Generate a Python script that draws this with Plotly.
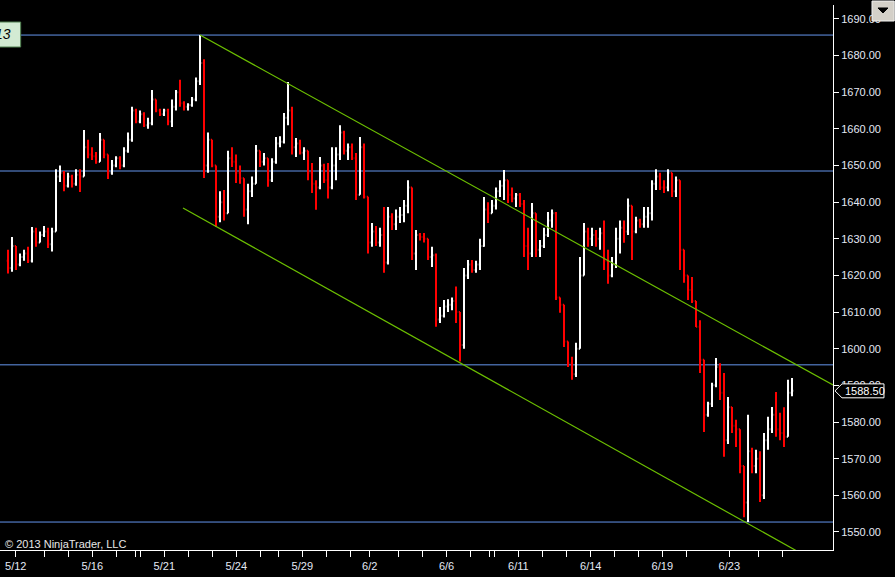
import plotly.graph_objects as go

# ---- price bars (one bar per session slot) ----
close = [
    1622, 1628, 1623, 1625, 1626, 1624, 1632, 1629, 1631, 1632,
    1628.5, 1632, 1647, 1648, 1644.5, 1647, 1645, 1647.5, 1647, 1655,
    1653, 1652.5, 1651, 1657, 1653, 1648, 1650, 1652, 1650, 1654,
    1657, 1665, 1662, 1664, 1661, 1661.5, 1668, 1665, 1664, 1665,
    1662, 1666, 1670, 1667, 1666, 1666.5, 1668, 1673, 1678, 1650,
    1657, 1650, 1636, 1640, 1637, 1652, 1651, 1648, 1646.5, 1638,
    1643, 1645, 1654, 1651, 1652, 1646, 1651, 1656, 1656.5, 1663,
    1665, 1655, 1656, 1653.5, 1654, 1648, 1645, 1644, 1650, 1646,
    1644, 1650, 1653, 1659, 1654, 1655, 1652, 1642, 1655, 1641.5,
    1629, 1632, 1629, 1631, 1623.5, 1636, 1634, 1636, 1636.5, 1639,
    1644, 1626, 1631, 1630.5, 1630, 1625, 1625.5, 1608, 1609, 1611.5,
    1612, 1613, 1610, 1601, 1620, 1623, 1621.5, 1623, 1628, 1638,
    1637, 1639, 1643, 1644.5, 1646, 1642, 1641, 1642, 1639.5, 1628,
    1626, 1637, 1627, 1628, 1631, 1635, 1637, 1614, 1612, 1602,
    1596, 1593, 1600, 1620, 1632, 1630, 1631, 1630, 1631.5, 1624,
    1620, 1623, 1630, 1633, 1632, 1639, 1632, 1635, 1634, 1636,
    1637, 1645, 1647, 1644, 1644, 1648, 1643, 1646, 1627, 1620,
    1616, 1613, 1606, 1597, 1582, 1585, 1590, 1595, 1588, 1575,
    1584, 1579, 1578, 1568, 1558, 1572, 1568, 1570, 1560, 1575,
    1578, 1582, 1578, 1577, 1576, 1588, 1588.5,
]
high = [
    1627, 1630.5, 1628, 1626, 1627, 1627.8, 1633.2, 1633, 1632, 1633.5,
    1633, 1633, 1649, 1650, 1648.5, 1648, 1647.5, 1649, 1649, 1659.7,
    1657, 1655, 1653.7, 1658.9, 1657, 1653, 1651.5, 1652.5, 1652.5, 1655,
    1659, 1666, 1665.5, 1665, 1664.5, 1663, 1670.6, 1668, 1665.5, 1665.5,
    1665.5, 1668, 1670.6, 1673.4, 1667.5, 1667, 1668.7, 1674, 1685.6, 1679,
    1659, 1657, 1650, 1643, 1643.3, 1654, 1655, 1653, 1650, 1646.5,
    1645, 1647, 1655.6, 1654, 1653.4, 1652, 1652, 1657.8, 1658, 1664.3,
    1672.8, 1666, 1657.5, 1657, 1655, 1654, 1650.7, 1646, 1652.3, 1650.5,
    1650.7, 1655, 1655, 1661, 1659.5, 1656, 1656, 1653.4, 1657.8, 1656,
    1641.5, 1634.3, 1633.5, 1633, 1638.7, 1638.7, 1637, 1638, 1638.7, 1640.6,
    1646, 1644, 1632.4, 1631.6, 1631.6, 1630, 1627.8, 1626, 1611.4, 1613.3,
    1613.5, 1614, 1617, 1610, 1622, 1624.2, 1624.2, 1624, 1630, 1641.4,
    1640, 1640.6, 1644, 1646, 1648.8, 1646, 1644, 1642.5, 1642.5, 1640.6,
    1633, 1639.8, 1637, 1629.7, 1633, 1637.3, 1638, 1637.3, 1614, 1612,
    1602, 1597.8, 1601.6, 1625, 1634.3, 1633, 1633, 1632.4, 1633, 1635,
    1627, 1625, 1633, 1635, 1635, 1641, 1639, 1636, 1635.5, 1638.7,
    1638.7, 1646, 1649, 1648, 1646, 1649, 1648, 1647, 1646, 1627,
    1620, 1619.6, 1613, 1607.8, 1597, 1585.5, 1590.7, 1597.5, 1596, 1593.4,
    1586.8, 1584.1, 1580.6, 1578, 1568, 1582, 1573, 1572.4, 1572, 1577,
    1581.4, 1584.1, 1588.2, 1582.5, 1584, 1591.5, 1592,
]
low = [
    1620.5, 1621, 1621.5, 1622.5, 1624, 1623.4, 1623.5, 1627.8, 1629, 1630.5,
    1627.5, 1626.5, 1632, 1645.5, 1643, 1644, 1644, 1644.5, 1642.8, 1647,
    1652, 1651.5, 1650.5, 1651, 1652, 1646.3, 1647.5, 1649.5, 1649, 1649.5,
    1653.5, 1656.5, 1661.5, 1661.5, 1660.5, 1660, 1661, 1664.5, 1663.5, 1663.5,
    1661, 1660.5, 1665, 1666, 1665, 1665, 1666, 1667.5, 1672, 1646.6,
    1648, 1649.5, 1633.2, 1634.5, 1635, 1637, 1649.6, 1645.2, 1645, 1636,
    1634, 1641.4, 1645, 1649.6, 1650, 1644.2, 1645.5, 1650.5, 1655, 1656,
    1661, 1653, 1652.3, 1653, 1651.5, 1646, 1642.5, 1637.9, 1643.5, 1645.2,
    1641, 1643.5, 1646, 1651.5, 1653, 1651.5, 1651.5, 1640.6, 1642, 1641,
    1626, 1627.8, 1628, 1627.8, 1620.7, 1623, 1632.4, 1632.4, 1634.3, 1634.5,
    1637, 1624.2, 1621.5, 1629.5, 1629, 1624.2, 1622.3, 1606, 1607, 1608.5,
    1610, 1610.5, 1607, 1596.5, 1600, 1619, 1620.7, 1620.7, 1621.5, 1627.8,
    1634.3, 1637, 1638, 1641.4, 1640.6, 1639.8, 1640, 1638.7, 1638.7, 1625,
    1621.5, 1625, 1625, 1625, 1627.5, 1630.5, 1633, 1613.3, 1609.8, 1600.5,
    1595, 1591.5, 1592.3, 1600, 1620, 1627.8, 1628, 1627.8, 1627, 1621.5,
    1617.7, 1619.5, 1622, 1626, 1628.9, 1631, 1624.2, 1631.5, 1633, 1633,
    1633, 1635, 1643.3, 1643.3, 1642.5, 1643, 1641.4, 1641.4, 1621.5, 1618,
    1613.3, 1612.5, 1605.9, 1593.4, 1577.3, 1581.4, 1584.1, 1589.5, 1586, 1570.5,
    1574, 1577, 1573.2, 1566, 1554, 1552.7, 1566, 1566, 1558.2, 1559,
    1572.4, 1577, 1576, 1575, 1573.2, 1576, 1587,
]
first_open = 1624
open_ = [first_open] + close[:-1]
bar_x = list(range(len(close)))

# ---- x-axis ticks (bar positions) ----
tick_pos = [1.93, 9.08, 15.08, 21.08, 27.08, 31.93, 33.08, 39.08, 45.08, 51.08,
            57.08, 63.08, 67.58, 73.58, 79.58, 85.58, 90.43, 97.58, 103.58,
            109.63, 115.68, 120.33, 121.5, 127.58, 133.58, 139.58, 145.68,
            151.68, 157.68, 163.58, 169.58, 180.33, 187.68, 193.68]
tick_text = ["5/12", "", "", "5/16", "", "", "", "5/21", "", "",
             "5/24", "", "", "5/29", "", "", "6/2", "", "",
             "6/6", "", "", "", "6/11", "", "", "6/14",
             "", "", "6/19", "", "6/23", "", ""]
y_ticks = [1550, 1560, 1570, 1580, 1590, 1600, 1610, 1620, 1630, 1640,
           1650, 1660, 1670, 1680, 1690]

# ---- drawn objects ----
hlines = [1685.6, 1648.5, 1595.6, 1552.7]
upper_x = [48, 206.25]
upper_y = [1685.6, 1590.1]
lower_x = [43.75, 200]
lower_y = [1638.4, 1543.1]
last_price = 1588.5

fig = go.Figure()
fig.add_trace(go.Ohlc(
    x=bar_x, open=open_, high=high, low=low, close=close,
    increasing=dict(line=dict(color="#ffffff", width=2)),
    decreasing=dict(line=dict(color="#ff0000", width=2)),
    tickwidth=0.3, hoverinfo="skip", showlegend=False,
))
fig.add_trace(go.Scatter(x=upper_x, y=upper_y, mode="lines",
                         line=dict(color="#6cbf00", width=1.2),
                         hoverinfo="skip", showlegend=False))
fig.add_trace(go.Scatter(x=lower_x, y=lower_y, mode="lines",
                         line=dict(color="#6cbf00", width=1.2),
                         hoverinfo="skip", showlegend=False))

shapes = []
for lv in hlines:
    shapes.append(dict(type="line", xref="paper", yref="y", x0=0, x1=1,
                       y0=lv, y1=lv, line=dict(color="#6495ed", width=1),
                       layer="below"))

# price marker on right axis
shapes.append(dict(type="path", xref="paper", yref="y",
                   path=f"M 1.0024,{last_price} L 1.0108,{last_price + 1.9} "
                        f"L 1.0612,{last_price + 1.9} L 1.0612,{last_price - 1.9} "
                        f"L 1.0108,{last_price - 1.9} Z",
                   fillcolor="#000000", line=dict(color="#ffffff", width=1),
                   layer="above"))
# dropdown button top-right
shapes.append(dict(type="rect", xref="paper", yref="paper",
                   x0=1.0468, x1=1.0735, y0=0.9706, y1=1.0073,
                   fillcolor="#d4d0c8", line=dict(color="#f2f2f2", width=1),
                   layer="above"))
shapes.append(dict(type="path", xref="paper", yref="paper",
                   path="M 1.054,0.9945 L 1.066,0.9945 L 1.060,0.9853 Z",
                   fillcolor="#000000", line=dict(color="#000000", width=1),
                   layer="above"))
# green label box top-left
shapes.append(dict(type="rect", xref="paper", yref="paper",
                   x0=-0.002, x1=0.0248, y0=0.9229, y1=0.9688,
                   fillcolor="#d3ebd3", line=dict(color="#4f7f4f", width=1),
                   layer="above"))

annotations = [
    dict(text="1588.50", xref="paper", yref="y", x=1.0115, y=last_price,
         xanchor="left", yanchor="middle", showarrow=False,
         font=dict(family="Liberation Sans, Arial", size=11, color="#ffffff")),
    dict(text="13", xref="paper", yref="paper", x=0.0155, y=0.9459,
         xanchor="right", yanchor="middle", showarrow=False,
         font=dict(family="Liberation Sans, Arial", size=14, color="#000000",
                   style="italic")),
    dict(text="© 2013 NinjaTrader, LLC", xref="paper", yref="paper",
         x=0.0036, y=0.011, xanchor="left", yanchor="middle", showarrow=False,
         font=dict(family="Liberation Sans, Arial", size=11, color="#e8e8e8")),
]

fig.update_layout(
    width=895, height=577,
    margin=dict(l=0, r=62, t=5, b=27),
    paper_bgcolor="#000000", plot_bgcolor="#000000",
    shapes=shapes, annotations=annotations,
    font=dict(family="Liberation Sans, Arial", size=11, color="#e4e9f5"),
    xaxis=dict(range=[-2, 206.25], showgrid=False, zeroline=False,
               rangeslider=dict(visible=False),
               tickmode="array", tickvals=tick_pos, ticktext=tick_text,
               ticks="outside", ticklen=6, tickcolor="#ffffff", tickwidth=1,
               showline=True, linecolor="#ffffff", linewidth=1,
               tickfont=dict(size=11, color="#e4e9f5")),
    yaxis=dict(range=[1545.07, 1693.8], side="right", showgrid=False,
               zeroline=False, tickmode="array", tickvals=y_ticks,
               tickformat=".2f", ticks="outside", ticklen=5,
               tickcolor="#ffffff", tickwidth=1,
               showline=True, linecolor="#ffffff", linewidth=1,
               tickfont=dict(size=11, color="#e4e9f5")),
)

fig.write_html(
    "out.html",
    config={"displayModeBar": False},
    post_script="document.body.style.margin='0px';"
                "document.body.style.overflow='hidden';",
)
